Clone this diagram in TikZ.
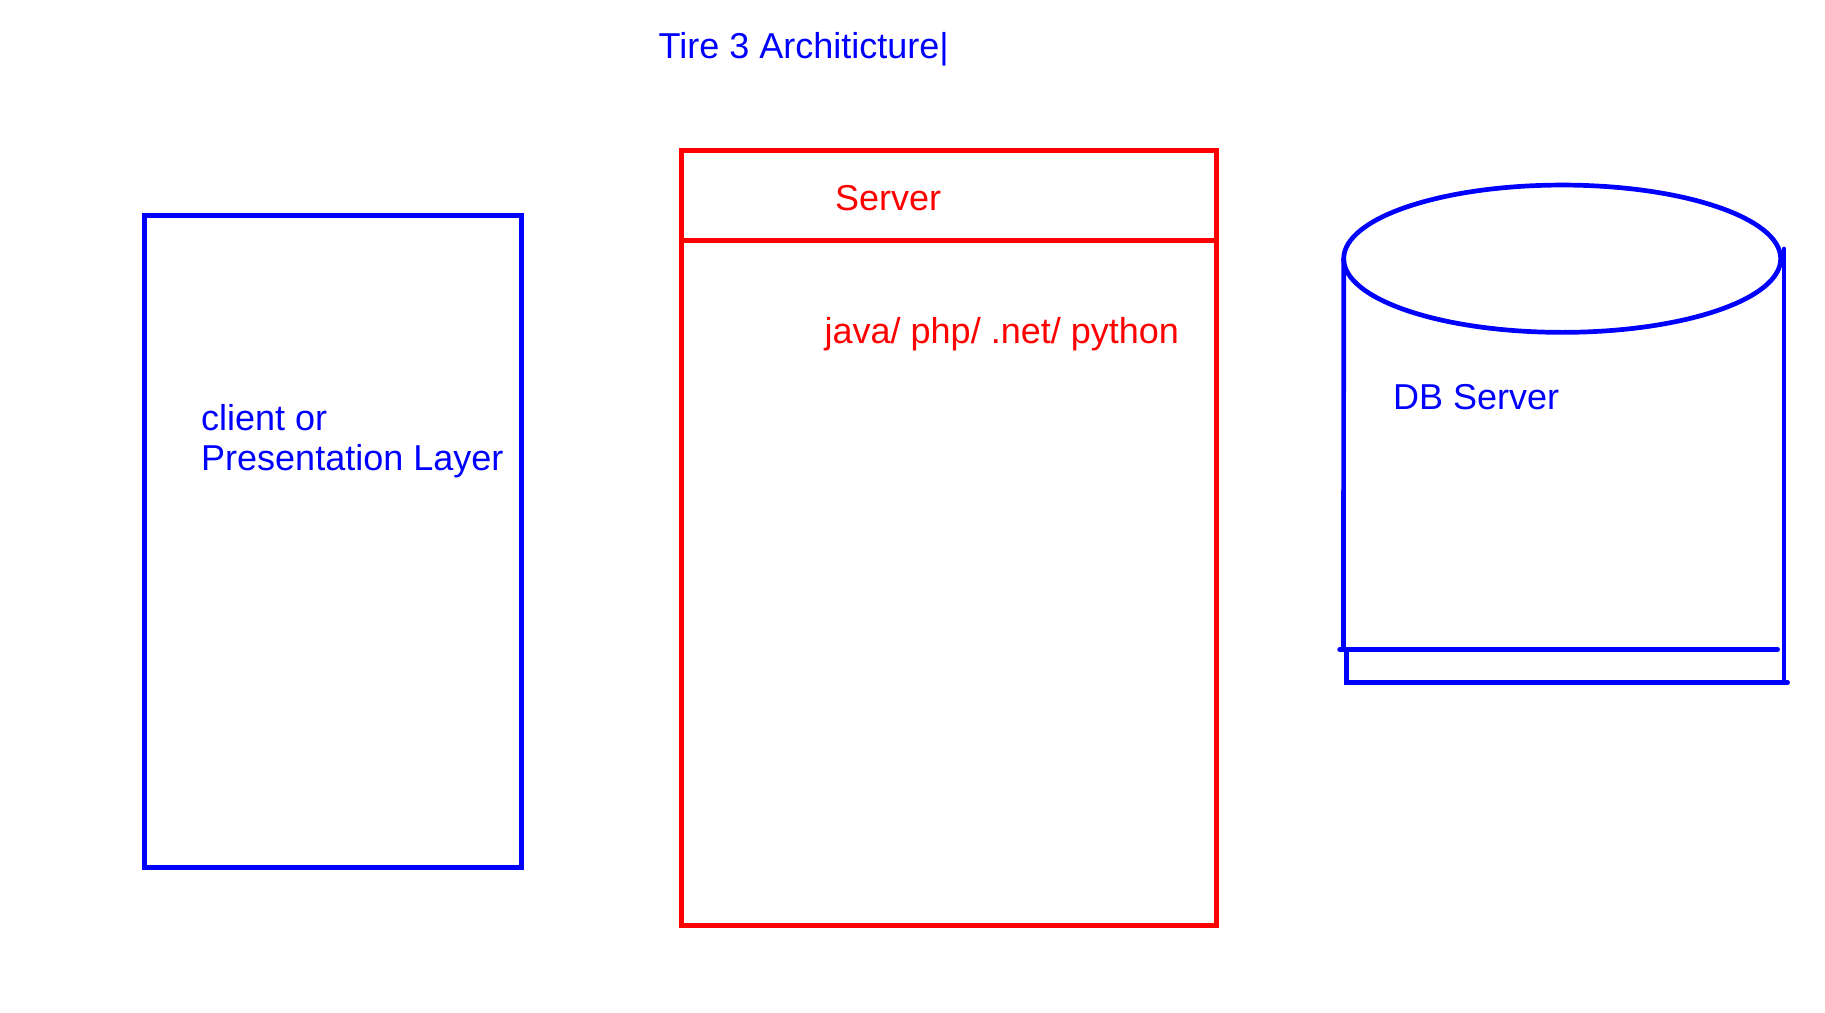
\documentclass[tikz,border=0pt]{standalone}
\usepackage{fontspec}
\setmainfont{Liberation Sans}
\usetikzlibrary{shapes.geometric}
\definecolor{pblue}{RGB}{0,0,255}
\definecolor{pred}{RGB}{255,0,0}
\tikzset{
  boxline/.style={draw, line width=4.8pt, inner sep=0pt, outer sep=0pt, anchor=north west},
  lbl/.style={anchor=base west, inner sep=0pt, font=\fontsize{36}{39.3}\selectfont},
  dbline/.style={draw=pblue, line width=4.7pt, line cap=round}
}
\begin{document}
\begin{tikzpicture}[x=1pt,y=-1pt]
\useasboundingbox (0,0) rectangle (1825,1012);
% title
\node[lbl, text=pblue] (title) at (658.5,58.3) {Tire 3 Architicture|};
% client box
\node[boxline, draw=pblue, minimum width=377pt, minimum height=651.6pt] (client) at (144.5,215.7) {};
\node[lbl, text=pblue] (clientA) at (201,430.7) {client or};
\node[lbl, text=pblue] (clientB) at (201,470) {Presentation Layer};
% server box
\node[boxline, draw=pred, minimum width=534.6pt, minimum height=774.6pt] (server) at (681.7,150.7) {};
\coordinate (divL) at (681.7,240.3);
\coordinate (divR) at (1216.3,240.3);
\draw[pred, line width=4.8pt] (divL) -- (divR);
\node[lbl, text=pred] (servertitle) at (835,210) {Server};
\node[lbl, text=pred] (lang) at (824.5,343.3) {java/ php/ .net/ python};
% DB cylinder
\node[ellipse, draw=pblue, line width=4.7pt, inner sep=0pt, outer sep=0pt, minimum width=437pt, minimum height=147.3pt] (dbtop) at (1562.2,258.7) {};
\coordinate (rtop) at (1784,249);
\coordinate (rbot) at (1784,682.6);
\coordinate (lbot) at (1343.5,649.3);
\coordinate (h1l) at (1339.6,649.3);
\coordinate (h1r) at (1777.6,649.3);
\coordinate (v2t) at (1346.7,649.3);
\coordinate (v2b) at (1346.7,682.3);
\coordinate (h2r) at (1787.6,682.3);
\draw[dbline] (dbtop.west) -- (lbot);
\draw[dbline, line width=4.9pt] (rtop) -- (rbot);
\draw[dbline] (h1l) -- (h1r);
\draw[dbline] (v2t) -- (v2b) -- (h2r);
\node[lbl, text=pblue] (dblabel) at (1393,409) {DB Server};
\end{tikzpicture}
\end{document}
